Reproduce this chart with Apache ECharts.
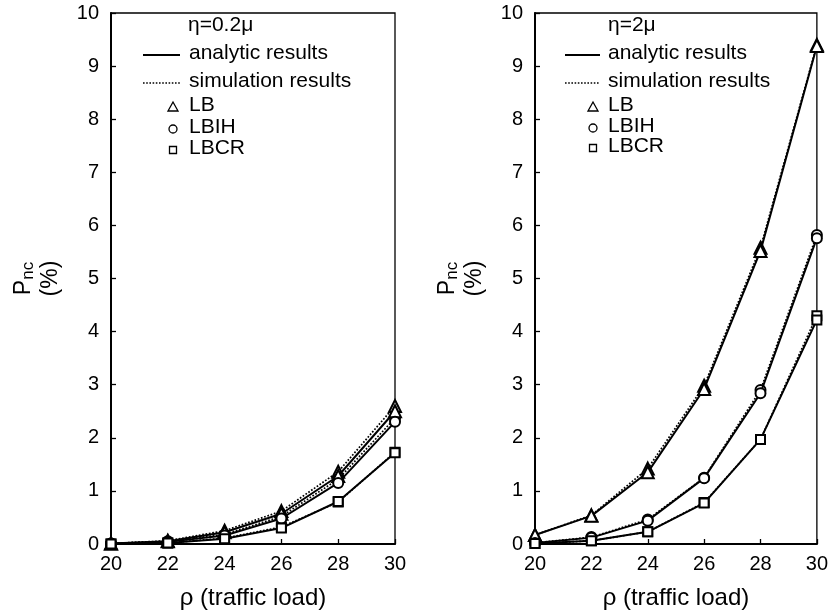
<!DOCTYPE html>
<html>
<head>
<meta charset="utf-8">
<script src="https://cdn.jsdelivr.net/npm/echarts@6/dist/echarts.min.js"></script>
<style>html,body{margin:0;padding:0;background:#fff;}#c{width:831px;height:615px;}</style>
</head>
<body>
<div id="c"></div>
<script>
// ---- data ----
const xValues = [20, 22, 24, 26, 28, 30];
const xTicks = [20, 22, 24, 26, 28, 30];
const yTicks = [0, 1, 2, 3, 4, 5, 6, 7, 8, 9, 10];
const panelTitles = ['η=0.2μ', 'η=2μ'];
const schemes = ['LB', 'LBIH', 'LBCR'];

// η = 0.2μ (left panel)
const lbAnalyticL   = [0.01, 0.05, 0.22, 0.57, 1.28, 2.50];
const lbSimL        = [0.01, 0.06, 0.25, 0.62, 1.36, 2.60];
const lbihAnalyticL = [0.01, 0.04, 0.16, 0.48, 1.15, 2.30];
const lbihSimL      = [0.01, 0.05, 0.18, 0.52, 1.22, 2.37];
const lbcrAnalyticL = [0.00, 0.02, 0.10, 0.30, 0.80, 1.72];
const lbcrSimL      = [0.00, 0.02, 0.11, 0.32, 0.79, 1.73];

// η = 2μ (right panel)
const lbAnalyticR   = [0.17, 0.53, 1.35, 2.92, 5.52, 9.38];
const lbSimR        = [0.17, 0.54, 1.42, 2.98, 5.58, 9.40];
const lbihAnalyticR = [0.02, 0.12, 0.44, 1.24, 2.84, 5.76];
const lbihSimR      = [0.02, 0.13, 0.46, 1.25, 2.90, 5.82];
const lbcrAnalyticR = [0.01, 0.06, 0.23, 0.77, 1.97, 4.22];
const lbcrSimR      = [0.01, 0.06, 0.23, 0.78, 1.97, 4.30];

// ---- chart ----
const FONT = 'Liberation Sans, Arial, Helvetica, sans-serif';
const chart = echarts.init(document.getElementById('c'), null, {renderer: 'canvas'});

const symbols = {LB: 'emptyTriangle', LBIH: 'emptyCircle', LBCR: 'emptyRect'};
const symSizes = {LB: 12, LBIH: 10, LBCR: 9};

function pairs(vals) { return xValues.map((x, i) => [x, vals[i]]); }
function mkSeries(scheme, vals, sim, idx) {
  return {
    type: 'line',
    name: scheme + (sim ? ' sim' : ' analytic'),
    xAxisIndex: idx, yAxisIndex: idx,
    data: pairs(vals),
    symbol: symbols[scheme],
    symbolSize: symSizes[scheme],
    showAllSymbol: true,
    lineStyle: {color: '#000', width: sim ? 1.7 : 2, type: sim ? 'dotted' : 'solid'},
    itemStyle: {color: '#000', borderColor: '#000', borderWidth: 1.6},
    z: sim ? 2 : 3,
    animation: false
  };
}

const series = [
  mkSeries('LB', lbSimL, true, 0), mkSeries('LB', lbAnalyticL, false, 0),
  mkSeries('LBIH', lbihSimL, true, 0), mkSeries('LBIH', lbihAnalyticL, false, 0),
  mkSeries('LBCR', lbcrSimL, true, 0), mkSeries('LBCR', lbcrAnalyticL, false, 0),
  mkSeries('LB', lbSimR, true, 1), mkSeries('LB', lbAnalyticR, false, 1),
  mkSeries('LBIH', lbihSimR, true, 1), mkSeries('LBIH', lbihAnalyticR, false, 1),
  mkSeries('LBCR', lbcrSimR, true, 1), mkSeries('LBCR', lbcrAnalyticR, false, 1)
];

const grids = [
  {left: 111, top: 13, width: 284, height: 532},
  {left: 535, top: 13, width: 285, height: 532}
];

function xAxis(idx) {
  return {
    type: 'value', gridIndex: idx, min: xTicks[0], max: xTicks[xTicks.length - 1], interval: 2,
    name: 'ρ (traffic load)', nameLocation: 'middle', nameGap: 42,
    nameTextStyle: {fontSize: 24, color: '#000', fontFamily: FONT},
    axisLine: {show: true, onZero: false, lineStyle: {color: '#000', width: 2}},
    axisTick: {show: true, inside: true, length: 5, lineStyle: {color: '#000', width: 1.3}},
    axisLabel: {fontSize: 20, color: '#000', fontFamily: FONT, margin: 10},
    splitLine: {show: false}
  };
}
function yAxis(idx) {
  return {
    type: 'value', gridIndex: idx, min: yTicks[0], max: yTicks[yTicks.length - 1], interval: 1,
    name: '{p|P}{s|nc}\n{q|(%)}', nameLocation: 'middle', nameRotate: 90, nameGap: 47,
    nameTextStyle: {
      color: '#000', fontFamily: FONT,
      rich: {
        p: {fontSize: 23, lineHeight: 27, fontFamily: FONT, color: '#000', verticalAlign: 'middle'},
        s: {fontSize: 17, lineHeight: 27, fontFamily: FONT, color: '#000', verticalAlign: 'bottom'},
        q: {fontSize: 23, lineHeight: 27, fontFamily: FONT, color: '#000'}
      }
    },
    axisLine: {show: true, onZero: false, lineStyle: {color: '#000', width: 2}},
    axisTick: {show: true, inside: true, length: 5, lineStyle: {color: '#000', width: 1.3}},
    axisLabel: {fontSize: 20, color: '#000', fontFamily: FONT, margin: 12},
    splitLine: {show: false}
  };
}

// legend drawn as graphic elements (one block per panel)
function legendBlock(title, base) {
  const els = [];
  const txt = (x, y, s) => ({type: 'text', left: x, top: y - 12, style: {text: s, fontSize: 21, fontFamily: FONT, fill: '#000'}, z: 10});
  els.push(txt(base.titleX, 27, title));
  els.push({type: 'line', shape: {x1: base.lineX1, y1: 55, x2: base.lineX2, y2: 55}, style: {stroke: '#000', lineWidth: 2}, z: 10});
  els.push(txt(base.textX, 55, 'analytic results'));
  els.push({type: 'line', shape: {x1: base.lineX1, y1: 83, x2: base.lineX2, y2: 83}, style: {stroke: '#000', lineWidth: 1.6, lineDash: [1.6, 1.6]}, z: 10});
  els.push(txt(base.textX, 83, 'simulation results'));
  const sx = base.symX;
  const ys = base.rows;
  els.push({type: 'polygon', shape: {points: [[sx, ys[0] - 5], [sx - 5, ys[0] + 4], [sx + 5, ys[0] + 4]]}, style: {fill: '#fff', stroke: '#000', lineWidth: 1.3}, z: 10});
  els.push(txt(base.textX, ys[0], schemes[0]));
  els.push({type: 'circle', shape: {cx: sx, cy: ys[1], r: 4}, style: {fill: '#fff', stroke: '#000', lineWidth: 1.3}, z: 10});
  els.push(txt(base.textX, ys[1], schemes[1]));
  els.push({type: 'rect', shape: {x: sx - 3.5, y: ys[2] - 3.5, width: 7, height: 7}, style: {fill: '#fff', stroke: '#000', lineWidth: 1.3}, z: 10});
  els.push(txt(base.textX, ys[2], schemes[2]));
  return els;
}

const graphics = [].concat(
  legendBlock(panelTitles[0], {titleX: 188, lineX1: 143, lineX2: 180, textX: 189, symX: 173, rows: [107, 129, 150]}),
  legendBlock(panelTitles[1], {titleX: 608, lineX1: 565, lineX2: 600, textX: 608, symX: 593, rows: [107, 128, 148]})
);

chart.setOption({
  animation: false,
  backgroundColor: '#fff',
  grid: grids.map(g => Object.assign({show: true, borderColor: '#000', borderWidth: 1.3, backgroundColor: 'transparent'}, g)),
  xAxis: [xAxis(0), xAxis(1)],
  yAxis: [yAxis(0), yAxis(1)],
  series: series,
  graphic: graphics
});
</script>
</body>
</html>
